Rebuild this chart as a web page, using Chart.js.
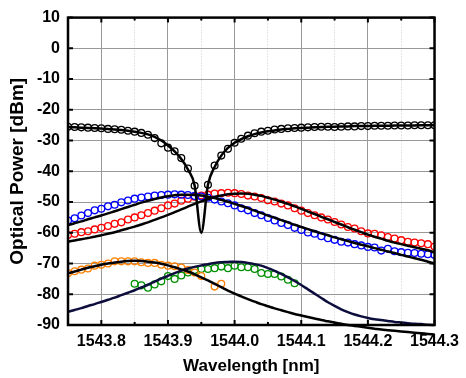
<!DOCTYPE html>
<html>
<head>
<meta charset="utf-8">
<script src="https://cdn.jsdelivr.net/npm/chart.js@4"></script>
<style>
  body { margin: 0; background: #fff; }
  canvas { display: block; }
</style>
</head>
<body>
<canvas id="myChart" width="466" height="378"></canvas>
<script>
// wavelength grid [nm]
const wavelength = [
  1543.75, 1543.76, 1543.77, 1543.78, 1543.79, 1543.80, 1543.81, 1543.82,
  1543.83, 1543.84, 1543.85, 1543.86, 1543.87, 1543.88, 1543.89, 1543.90,
  1543.91, 1543.92, 1543.93, 1543.94, 1543.95, 1543.96, 1543.97, 1543.98,
  1543.99, 1544.00, 1544.01, 1544.02, 1544.03, 1544.04, 1544.05, 1544.06,
  1544.07, 1544.08, 1544.09, 1544.10, 1544.11, 1544.12, 1544.13, 1544.14,
  1544.15, 1544.16, 1544.17, 1544.18, 1544.19, 1544.20, 1544.21, 1544.22,
  1544.23, 1544.24, 1544.25, 1544.26, 1544.27, 1544.28, 1544.29, 1544.30
];

// measured (circles) [dBm]
const notchMeas = [
  -25.5, -25.6, -25.7, -25.8, -25.9, -26.0, -26.2, -26.3, -26.5, -26.8,
  -27.1, -27.5, -28.1, -29.2, -30.9, -32.3, -33.5, -35.7, -39.1, -44.7,
  null, -44.4, -38.1, -34.9, -32.7, -30.7, -29.4, -28.4, -27.6, -27.1,
  -26.8, -26.4, -26.2, -26.0, -25.9, -25.8, -25.7, -25.6, -25.5, -25.5,
  -25.6, -25.5, -25.4, -25.4, -25.3, -25.3, -25.2, -25.2, -25.2, -25.1,
  -25.1, -25.1, -25.0, -25.0, -25.0, -25.0
];
const blueMeas = [
  -56.0, -55.3, -54.4, -53.6, -52.7, -52.2, -51.4, -50.9, -50.1, -49.5,
  -48.9, -48.5, -48.2, -47.9, -47.7, -47.6, -47.5, -47.6, -47.7, -48.0,
  -48.2, -48.6, -49.2, -49.8, -50.4, -51.1, -52.0, -52.7, -53.6, -54.3,
  -55.2, -56.0, -56.8, -57.5, -58.4, -59.1, -59.9, -60.3, -61.1, -61.8,
  -62.3, -62.9, -63.2, -63.7, -64.1, -64.6, -64.8, -65.8, -65.2, -66.0,
  -66.3, -66.5, -66.6, -66.8, -67.0, -67.2
];
const redMeas = [
  -60.7, -60.3, -59.8, -59.5, -58.9, -58.4, -57.8, -57.1, -56.6, -55.7,
  -55.0, -54.3, -53.6, -52.8, -52.0, -51.1, -50.5, -49.6, -48.9, -48.3,
  -47.9, -47.6, -47.2, -47.1, -47.0, -47.1, -47.4, -47.9, -48.2, -48.7,
  -49.4, -49.8, -50.5, -51.1, -52.0, -52.8, -53.6, -54.3, -55.0, -55.7,
  -56.5, -57.3, -58.1, -58.6, -59.5, -60.2, -60.3, -60.8, -61.4, -61.9,
  -62.4, -62.9, -63.2, -63.4, -63.7, -64.5
];
const orangeMeas = [
  -73.2, -72.5, -72.0, -71.6, -70.7, -70.4, -70.0, -69.3, -69.3, -69.3,
  -69.3, -69.6, -69.8, -69.8, -70.4, -70.7, -70.9, -71.3, -72.1, -72.9,
  -74.1, null, -77.5, -76.6
];
const greenMeas = [
  null, null, null, null, null, null, null, null, null, null,
  -76.6, -77.1, -77.9, -76.8, -75.8, -74.1, -75.0, -73.9, -72.9, -72.1,
  -71.8, -71.8, -71.5, -71.0, -71.5, -70.7, -71.2, -71.2, -71.8, -73.1,
  -73.4, -73.4, -74.2, -75.3, -76.4
];

// fitted curves (lines) [dBm]
const notchFit = [
  -25.6, -25.7, -25.8, -25.9, -26.0, -26.1, -26.2, -26.4, -26.6, -26.8,
  -27.1, -27.5, -28.0, -28.8, -30.0, -31.6, -33.5, -36.0, -39.4, -44.6,
  -60.0, -44.4, -38.6, -34.9, -32.4, -30.7, -29.5, -28.6, -27.9, -27.4,
  -27.0, -26.7, -26.4, -26.2, -26.0, -25.9, -25.8, -25.7, -25.6, -25.5,
  -25.5, -25.4, -25.4, -25.3, -25.3, -25.3, -25.2, -25.2, -25.2, -25.1,
  -25.1, -25.1, -25.1, -25.0, -25.0, -25.0
];
const blueFit = [
  -57.5, -56.9, -56.3, -55.6, -55.0, -54.4, -53.7, -53.0, -52.3, -51.6,
  -50.9, -50.2, -49.6, -49.0, -48.5, -48.1, -47.8, -47.6, -47.6, -47.7,
  -47.9, -48.3, -48.7, -49.3, -49.9, -50.6, -51.3, -52.0, -52.8, -53.6,
  -54.4, -55.1, -55.9, -56.6, -57.4, -58.1, -58.8, -59.5, -60.2, -60.8,
  -61.5, -62.1, -62.7, -63.3, -63.9, -64.4, -65.0, -65.5, -66.1, -66.6,
  -67.2, -67.7, -68.3, -68.8, -69.4, -70.0
];
const redFit = [
  -62.9, -62.5, -62.1, -61.7, -61.3, -60.8, -60.3, -59.8, -59.2, -58.6,
  -58.0, -57.3, -56.6, -55.8, -55.0, -54.2, -53.3, -52.4, -51.5, -50.6,
  -49.8, -49.1, -48.4, -47.9, -47.5, -47.3, -47.2, -47.3, -47.6, -48.0,
  -48.6, -49.2, -49.9, -50.6, -51.4, -52.2, -53.1, -53.9, -54.8, -55.6,
  -56.5, -57.3, -58.2, -59.0, -59.8, -60.6, -61.3, -61.9, -62.6, -63.2,
  -63.7, -64.2, -64.7, -65.2, -65.7, -66.4
];
const orangeFit = [
  -73.2, -72.6, -72.0, -71.4, -70.9, -70.4, -70.0, -69.7, -69.4, -69.2,
  -69.1, -69.2, -69.4, -69.7, -70.1, -70.6, -71.2, -71.9, -72.6, -73.5,
  -74.5, -75.5, -76.6, -77.7, -78.8, -79.8, -80.7, -81.6, -82.4, -83.2,
  -83.9, -84.6, -85.2, -85.8, -86.4, -86.9, -87.4, -87.9, -88.4, -88.8,
  -89.2, -89.6, -90.0, -90.3, -90.6, -90.9, -91.2, -91.5, -91.7, -91.9,
  -92.1, -92.3, -92.5, -92.7, -92.9, -93.1
];
const greenFit = [
  -85.7, -85.1, -84.5, -83.8, -83.2, -82.5, -81.8, -81.1, -80.3, -79.5,
  -78.7, -77.8, -76.9, -75.9, -74.9, -74.0, -73.1, -72.3, -71.6, -71.1,
  -70.6, -70.2, -69.8, -69.6, -69.5, -69.4, -69.5, -69.8, -70.2, -70.7,
  -71.5, -72.4, -73.4, -74.5, -75.7, -77.0, -78.4, -79.8, -81.2, -82.6,
  -83.8, -84.9, -85.8, -86.6, -87.2, -87.7, -88.1, -88.4, -88.7, -89.0,
  -89.2, -89.4, -89.6, -89.7, -89.9, -90.0
];

// axis ticks
const xMajorTicks = [1543.8, 1543.9, 1544.0, 1544.1, 1544.2, 1544.3];
const xMinorTicks = [1543.75, 1543.85, 1543.95, 1544.05, 1544.15, 1544.25];
const yMajorTicks = [10, 0, -10, -20, -30, -40, -50, -60, -70, -80, -90];

function toPoints(ys) {
  const pts = [];
  ys.forEach((y, i) => {
    pts.push({ x: wavelength[i], y: y });
  });
  return pts;
}

function isMajorX(v) {
  return xMajorTicks.some(t => Math.abs(t - v) < 1e-6);
}
function isMajorY(v) {
  return yMajorTicks.indexOf(Math.round(v)) !== -1;
}

function circles(ys, color) {
  return {
    data: toPoints(ys),
    showLine: false,
    pointRadius: 3.4,
    pointBorderWidth: 1.3,
    pointBorderColor: color,
    pointBackgroundColor: "rgba(0,0,0,0)",
    order: 2
  };
}
function fitLine(ys, color) {
  return {
    data: toPoints(ys),
    showLine: true,
    borderColor: color,
    borderWidth: 2.5,
    pointRadius: 0,
    cubicInterpolationMode: "monotone",
    clip: false,
    order: 1
  };
}

// inward tick marks + frame
const frameTicks = {
  id: "frameTicks",
  afterDraw(chart) {
    const { ctx, chartArea: a, scales } = chart;
    ctx.save();
    ctx.strokeStyle = "#000";
    ctx.lineWidth = 2;
    scales.x.ticks.forEach(t => {
      const px = scales.x.getPixelForValue(t.value);
      const len = isMajorX(t.value) ? 5 : 3;
      ctx.beginPath();
      ctx.moveTo(px, a.bottom); ctx.lineTo(px, a.bottom - len);
      ctx.moveTo(px, a.top); ctx.lineTo(px, a.top + len);
      ctx.stroke();
    });
    scales.y.ticks.forEach(t => {
      const py = scales.y.getPixelForValue(t.value);
      const len = isMajorY(t.value) ? 5 : 3;
      ctx.beginPath();
      ctx.moveTo(a.left, py); ctx.lineTo(a.left + len, py);
      ctx.moveTo(a.right, py); ctx.lineTo(a.right - len, py);
      ctx.stroke();
    });
    ctx.lineWidth = 2.5;
    ctx.strokeRect(a.left, a.top, a.right - a.left, a.bottom - a.top);
    ctx.restore();
  }
};

Chart.defaults.font.family = "'Liberation Sans', Arial, sans-serif";
Chart.defaults.font.weight = "bold";
Chart.defaults.color = "#000";

const statsChart = document.getElementById("myChart");
new Chart(statsChart, {
  type: "scatter",
  data: {
    datasets: [
      fitLine(notchFit, "#000000"),
      fitLine(blueFit, "#000000"),
      fitLine(redFit, "#000000"),
      fitLine(orangeFit, "#000000"),
      fitLine(greenFit, "#0d0d3d"),
      circles(notchMeas, "#000000"),
      circles(blueMeas, "#0000ff"),
      circles(redMeas, "#ff0000"),
      circles(orangeMeas, "#ff8000"),
      circles(greenMeas, "#009000")
    ]
  },
  options: {
    responsive: false,
    animation: false,
    layout: { padding: { left: 0, top: 14, right: 27, bottom: 0 } },
    plugins: { legend: { display: false }, tooltip: { enabled: false } },
    scales: {
      x: {
        type: "linear",
        min: 1543.75,
        max: 1544.3,
        afterBuildTicks: scale => {
          scale.ticks = xMinorTicks.concat(xMajorTicks)
            .sort((a, b) => a - b)
            .map(v => ({ value: v }));
        },
        afterFit: scale => { scale.height = 53; },
        ticks: {
          autoSkip: false,
          maxRotation: 0,
          padding: 7,
          font: { size: 16, weight: "bold" },
          callback: v => (isMajorX(v) ? v.toFixed(1) : "")
        },
        grid: {
          drawTicks: false,
          color: ctx => (ctx.tick && isMajorX(ctx.tick.value) ? "#999999" : "#cccccc"),
          lineWidth: 1
        },
        border: {
          display: false,
          dash: ctx => (ctx.type === "tick" && !isMajorX(ctx.tick.value) ? [1, 2] : [])
        },
        title: {
          display: true,
          text: "Wavelength [nm]",
          font: { size: 17, weight: "bold", lineHeight: 1.2 },
          padding: { top: 0, bottom: 1 }
        }
      },
      y: {
        min: -90,
        max: 10,
        afterFit: scale => { scale.width = 68; },
        ticks: {
          stepSize: 5,
          padding: 8,
          font: { size: 16, weight: "bold" },
          callback: v => (isMajorY(v) ? String(v) : "")
        },
        grid: {
          drawTicks: false,
          color: ctx => (ctx.tick && isMajorY(ctx.tick.value) ? "#999999" : "#cccccc"),
          lineWidth: 1
        },
        border: {
          display: false,
          dash: ctx => (ctx.type === "tick" && !isMajorY(ctx.tick.value) ? [1, 2] : [])
        },
        title: {
          display: true,
          text: "Optical Power [dBm]",
          font: { size: 19, weight: "bold", lineHeight: 1.2 },
          padding: { top: 6, bottom: 0 }
        }
      }
    }
  },
  plugins: [frameTicks]
});
</script>
</body>
</html>
